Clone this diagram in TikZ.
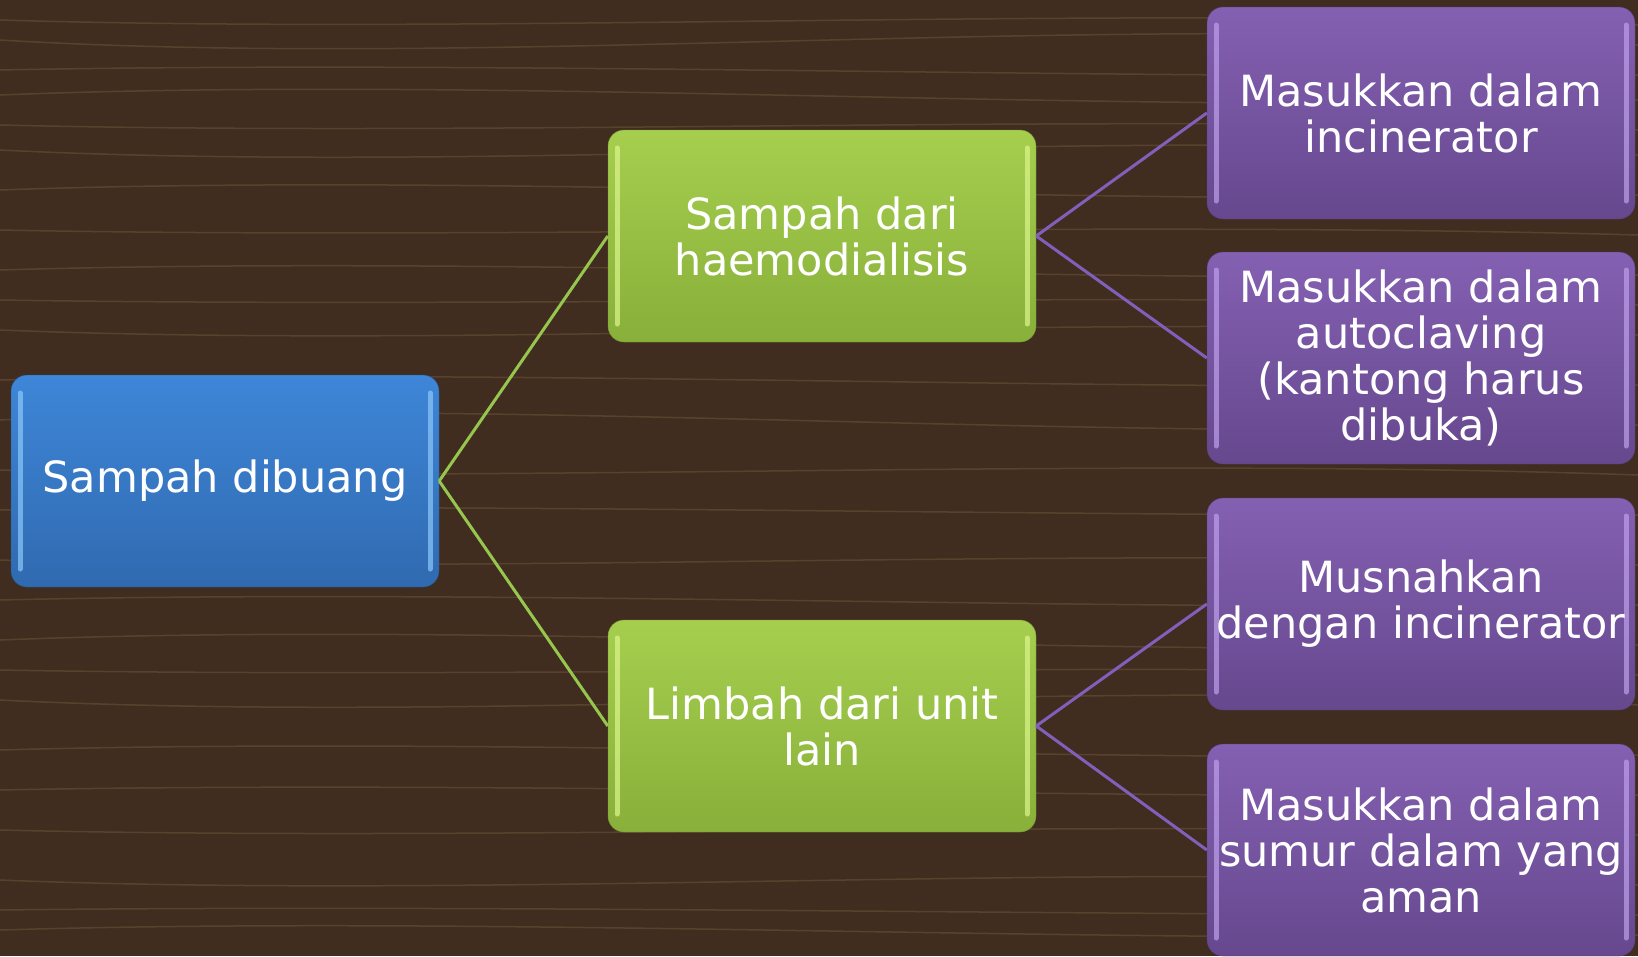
\documentclass[tikz,border=0pt]{standalone}
\usepackage{fontspec}
\setmainfont{DejaVu Sans}
\definecolor{wood}{RGB}{64,45,32}
\definecolor{grain}{RGB}{128,98,66}
\definecolor{blueT}{RGB}{62,134,216}
\definecolor{blueB}{RGB}{48,106,176}
\definecolor{blueHi}{RGB}{140,200,250}
\definecolor{greenT}{RGB}{166,206,78}
\definecolor{greenB}{RGB}{136,176,58}
\definecolor{greenHi}{RGB}{220,245,140}
\definecolor{purpT}{RGB}{132,96,178}
\definecolor{purpB}{RGB}{102,72,142}
\definecolor{purpHi}{RGB}{190,160,235}
\definecolor{greenLn}{RGB}{150,198,78}
\definecolor{purpLn}{RGB}{128,96,186}
\usetikzlibrary{positioning,calc}

\newcommand{\boxfont}{\fontsize{43}{46}\selectfont}
\tikzset{
  box/.style={rectangle, rounded corners=16pt, minimum width=428pt, minimum height=212pt,
    inner sep=0pt, align=center, text=white, font=\boxfont},
  gloss/.style={path picture={
    \draw [#1, line width=5pt, line cap=round, opacity=.7]
      ($(path picture bounding box.north west)+(9pt,-18pt)$) -- ($(path picture bounding box.south west)+(9pt,18pt)$);
    \draw [#1, line width=5pt, line cap=round, opacity=.7]
      ($(path picture bounding box.north east)+(-9pt,-18pt)$) -- ($(path picture bounding box.south east)+(-9pt,18pt)$);
  }},
  rootbox/.style={box, top color=blueT, bottom color=blueB, draw=blueB!80!black, gloss=blueHi},
  midbox/.style={box, top color=greenT, bottom color=greenB, draw=greenB!85!black, gloss=greenHi},
  leafbox/.style={box, top color=purpT, bottom color=purpB, draw=purpB!85!black, gloss=purpHi},
  midln/.style={greenLn, line width=3pt},
  leafln/.style={purpLn, line width=3pt}
}

\begin{document}
\begin{tikzpicture}[x=1pt, y=-1pt]
    \fill [wood] (0,0) rectangle (1638,956);
    \useasboundingbox (0,0) rectangle (1638,956);
    \foreach \y/\b in {20/15, 40/30, 70/-10, 95/-20, 125/12, 150/25, 190/-18, 230/10, 270/-15, 300/8, 330/20, 380/-12, 420/-25, 470/14, 510/-8, 560/15, 600/-12, 640/-20, 670/9, 700/25, 750/-14, 790/-10, 830/12, 880/20, 910/-6, 930/-15}
      \draw [grain, opacity=.4, line width=1.5pt] (0,\y) .. controls (500,\y+\b) and (1100,\y-\b) .. (1638,\y+5);

    \node [rootbox] (sd) at (225,481) {Sampah dibuang};
    \node [midbox] (sh) at (822,236) {Sampah dari\\haemodialisis};
    \node [midbox] (lu) at (822,726) {Limbah dari unit\\lain};
    \node [leafbox] (mi) at (1421,113) {Masukkan dalam\\incinerator};
    \node [leafbox] (ma) at (1421,358) {Masukkan dalam\\autoclaving\\(kantong harus\\dibuka)};
    \node [leafbox] (mu) at (1421,604) {Musnahkan\\dengan incinerator};
    \node [leafbox] (ms) at (1421,850) {Masukkan dalam\\sumur dalam yang\\aman};

    \draw [midln] (sd.east) -- (sh.west);
    \draw [midln] (sd.east) -- (lu.west);
    \draw [leafln] (sh.east) -- (mi.west);
    \draw [leafln] (sh.east) -- (ma.west);
    \draw [leafln] (lu.east) -- (mu.west);
    \draw [leafln] (lu.east) -- (ms.west);
\end{tikzpicture}
\end{document}
